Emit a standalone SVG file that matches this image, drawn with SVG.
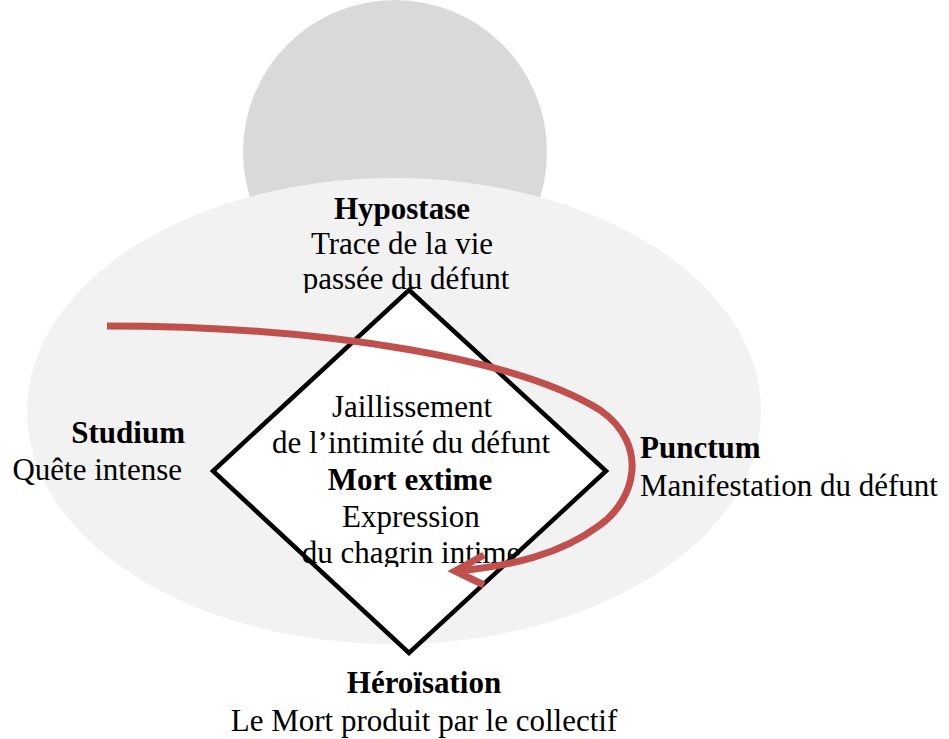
<svg xmlns="http://www.w3.org/2000/svg" width="949" height="739" viewBox="0 0 949 739">
<style>
.t{font-family:'Liberation Serif','Times New Roman',serif;font-size:31px;fill:#000}
.b{font-weight:bold}
.c{text-anchor:middle}
.r{text-anchor:end}
</style>
<defs>
<clipPath id="clipTop"><rect x="180" y="180" width="460" height="113"/></clipPath>
<clipPath id="clipMid"><rect x="180" y="380" width="460" height="187"/></clipPath>
</defs>
<rect width="949" height="739" fill="#fff"/>
<g id="circle-top"><circle cx="395" cy="152" r="152" fill="#d9d9d9"/></g>
<g id="ellipse-bg"><ellipse cx="394" cy="411" rx="367" ry="233" fill="#f2f2f2"/></g>
<g id="hypostase" clip-path="url(#clipTop)">
<text class="t b c" x="402" y="219">Hypostase</text>
<text class="t c" x="402" y="254">Trace de la vie</text>
<text class="t c" x="406" y="289">passée du défunt</text>
</g>
<g id="diamond"><polygon points="409,290 606,471 409,653 213,471" fill="#fff" stroke="#000" stroke-width="4.5" stroke-linejoin="miter"/></g>
<g id="center" clip-path="url(#clipMid)">
<text class="t c" x="412" y="417">Jaillissement</text>
<text class="t c" x="411" y="453">de l’intimité du défunt</text>
<text class="t b c" x="410" y="490">Mort extime</text>
<text class="t c" x="411" y="527">Expression</text>
<text class="t c" x="411" y="563">du chagrin intime</text>
</g>
<g id="studium">
<text class="t b r" x="185" y="443">Studium</text>
<text class="t r" x="182" y="480">Quête intense</text>
</g>
<g id="punctum">
<text class="t b" x="640" y="458">Punctum</text>
<text class="t" x="640" y="496">Manifestation du défunt</text>
</g>
<g id="heroisation">
<text class="t b c" x="424" y="693">Héroïsation</text>
<text class="t c" x="424" y="731">Le Mort produit par le collectif</text>
</g>
<g id="connectors" fill="none" stroke="#c0504d" stroke-width="7">
<path d="M107,326 C330,326 520,360 600,410 C650,445 635,500 600,525 C560,555 510,566 457,571"/>
<polyline points="484,555 455,571 484,585" stroke-linejoin="miter"/>
</g>
</svg>
